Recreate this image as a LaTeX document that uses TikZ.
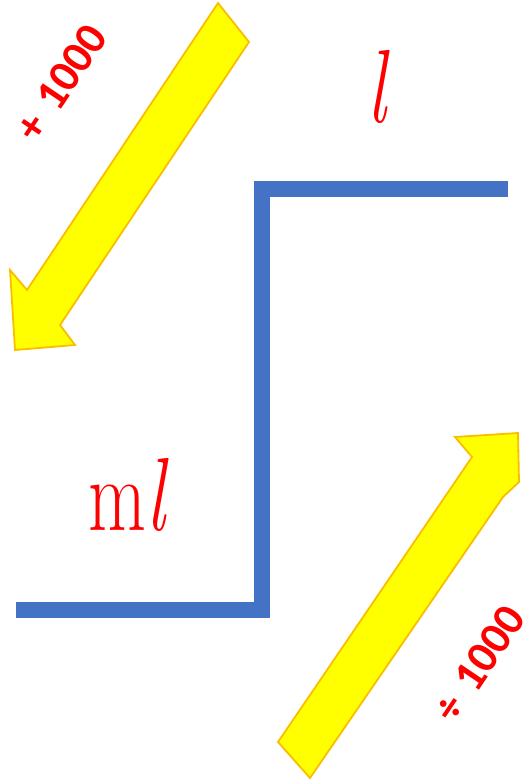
\documentclass[tikz,border=0pt]{standalone}
\usepackage{fontspec}
\newfontfamily\carlito{Carlito}
\usepackage{xcolor}
\usetikzlibrary{positioning}

\definecolor{stairblue}{RGB}{68,114,196}
\definecolor{arrowyellow}{RGB}{255,255,0}
\definecolor{arrowgold}{RGB}{250,190,0}
\definecolor{unitred}{RGB}{255,0,0}

\begin{document}
\begin{tikzpicture}[
  x=1pt, y=-1pt,
  every node/.style={inner sep=0pt},
  stair/.style={draw=stairblue, line width=16pt, line cap=butt, line join=miter},
  bigarrow/.style={fill=arrowyellow, draw=arrowgold, line width=1.8pt, line join=miter},
  unitlbl/.style={text=unitred, font=\fontsize{104}{110}\selectfont,
                  xscale=0.72, anchor=base},
  factor/.style={text=unitred, font=\carlito\bfseries\fontsize{45}{50}\selectfont,
                 rotate=56}
]
\useasboundingbox (0,0) rectangle (531,783);

% the step between the two units
\draw[stair] (508,189) -- (262,189) -- (262,610) -- (16,610);

% down: l to ml
\draw[bigarrow] (218,3) -- (27,290) -- (10,270) -- (15,350)
  -- (75,345) -- (60,325) -- (249,42) -- cycle;
% up: ml to l
\draw[bigarrow] (278,742) -- (472,457) -- (455,437) -- (518,433)
  -- (519,482) -- (503,497) -- (310,778) -- cycle;

\node[unitlbl] (litre) at (377,123) {\itshape l};
\node[unitlbl] (millilitre) at (127,530) {m{\itshape l}};

\node[factor] (times) at (61,83) {+\,\,1000};
\node[factor] (divide) at (479,664) {÷\,\,1000};
\end{tikzpicture}
\end{document}
